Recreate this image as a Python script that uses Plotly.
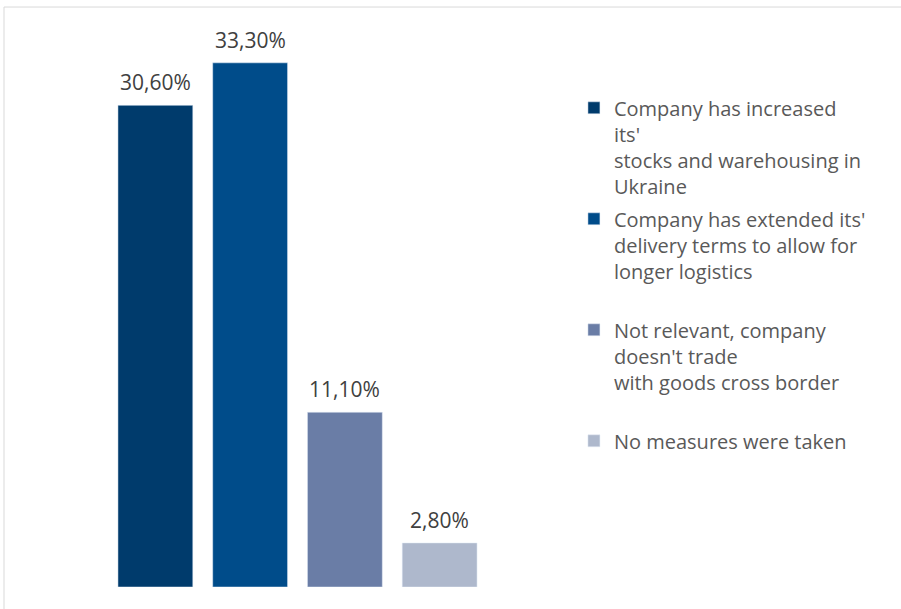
import plotly.graph_objects as go

# Survey answers and shares (%)
categories = [
    "Company has increased<br>its'<br>stocks and warehousing in<br>Ukraine",
    "Company has extended its'<br>delivery terms to allow for<br>longer logistics<br> ",
    "Not relevant, company<br>doesn't trade<br>with goods cross border<br> ",
    "No measures were taken",
]
values = [30.6, 33.3, 11.1, 2.8]
colors = ["#003B6C", "#004C8A", "#6A7DA6", "#AEB8CC"]
positions = [0, 1, 2, 3]

FONT = "Open Sans"

fig = go.Figure()
for pos, name, val, col in zip(positions, categories, values, colors):
    fig.add_trace(go.Bar(
        x=[pos], y=[val], name=name, marker_color=col,
        width=0.79, legendgroup=name, hoverinfo="skip",
    ))
    fig.add_annotation(
        x=pos, y=val, text=f"{val:.2f}".replace(".", ",") + "%",
        showarrow=False, yanchor="bottom", yshift=7,
        font=dict(family=FONT, size=21, color="#404040"),
    )

# light frame around the chart (right and bottom edges fall outside the page)
fig.add_shape(type="rect", xref="paper", yref="paper",
              x0=-0.2744, x1=3.0, y0=-0.5, y1=1.0603,
              line=dict(color="#D9D9D9", width=1), layer="below")

fig.update_layout(
    width=901, height=609,
    margin=dict(l=108, r=414, t=40, b=22),
    paper_bgcolor="white", plot_bgcolor="white",
    barmode="overlay",
    showlegend=True,
    legend=dict(
        xref="container", yref="container",
        x=0.637, y=0.855, xanchor="left", yanchor="top",
        valign="top", traceorder="grouped", tracegroupgap=4,
        itemwidth=30, maxheight=600,
        font=dict(family=FONT, size=20, color="#595959"),
    ),
    xaxis=dict(range=[-0.5, 3.5], visible=False),
    yaxis=dict(range=[0, 34.75], visible=False),
)

fig.write_html("out.html")
